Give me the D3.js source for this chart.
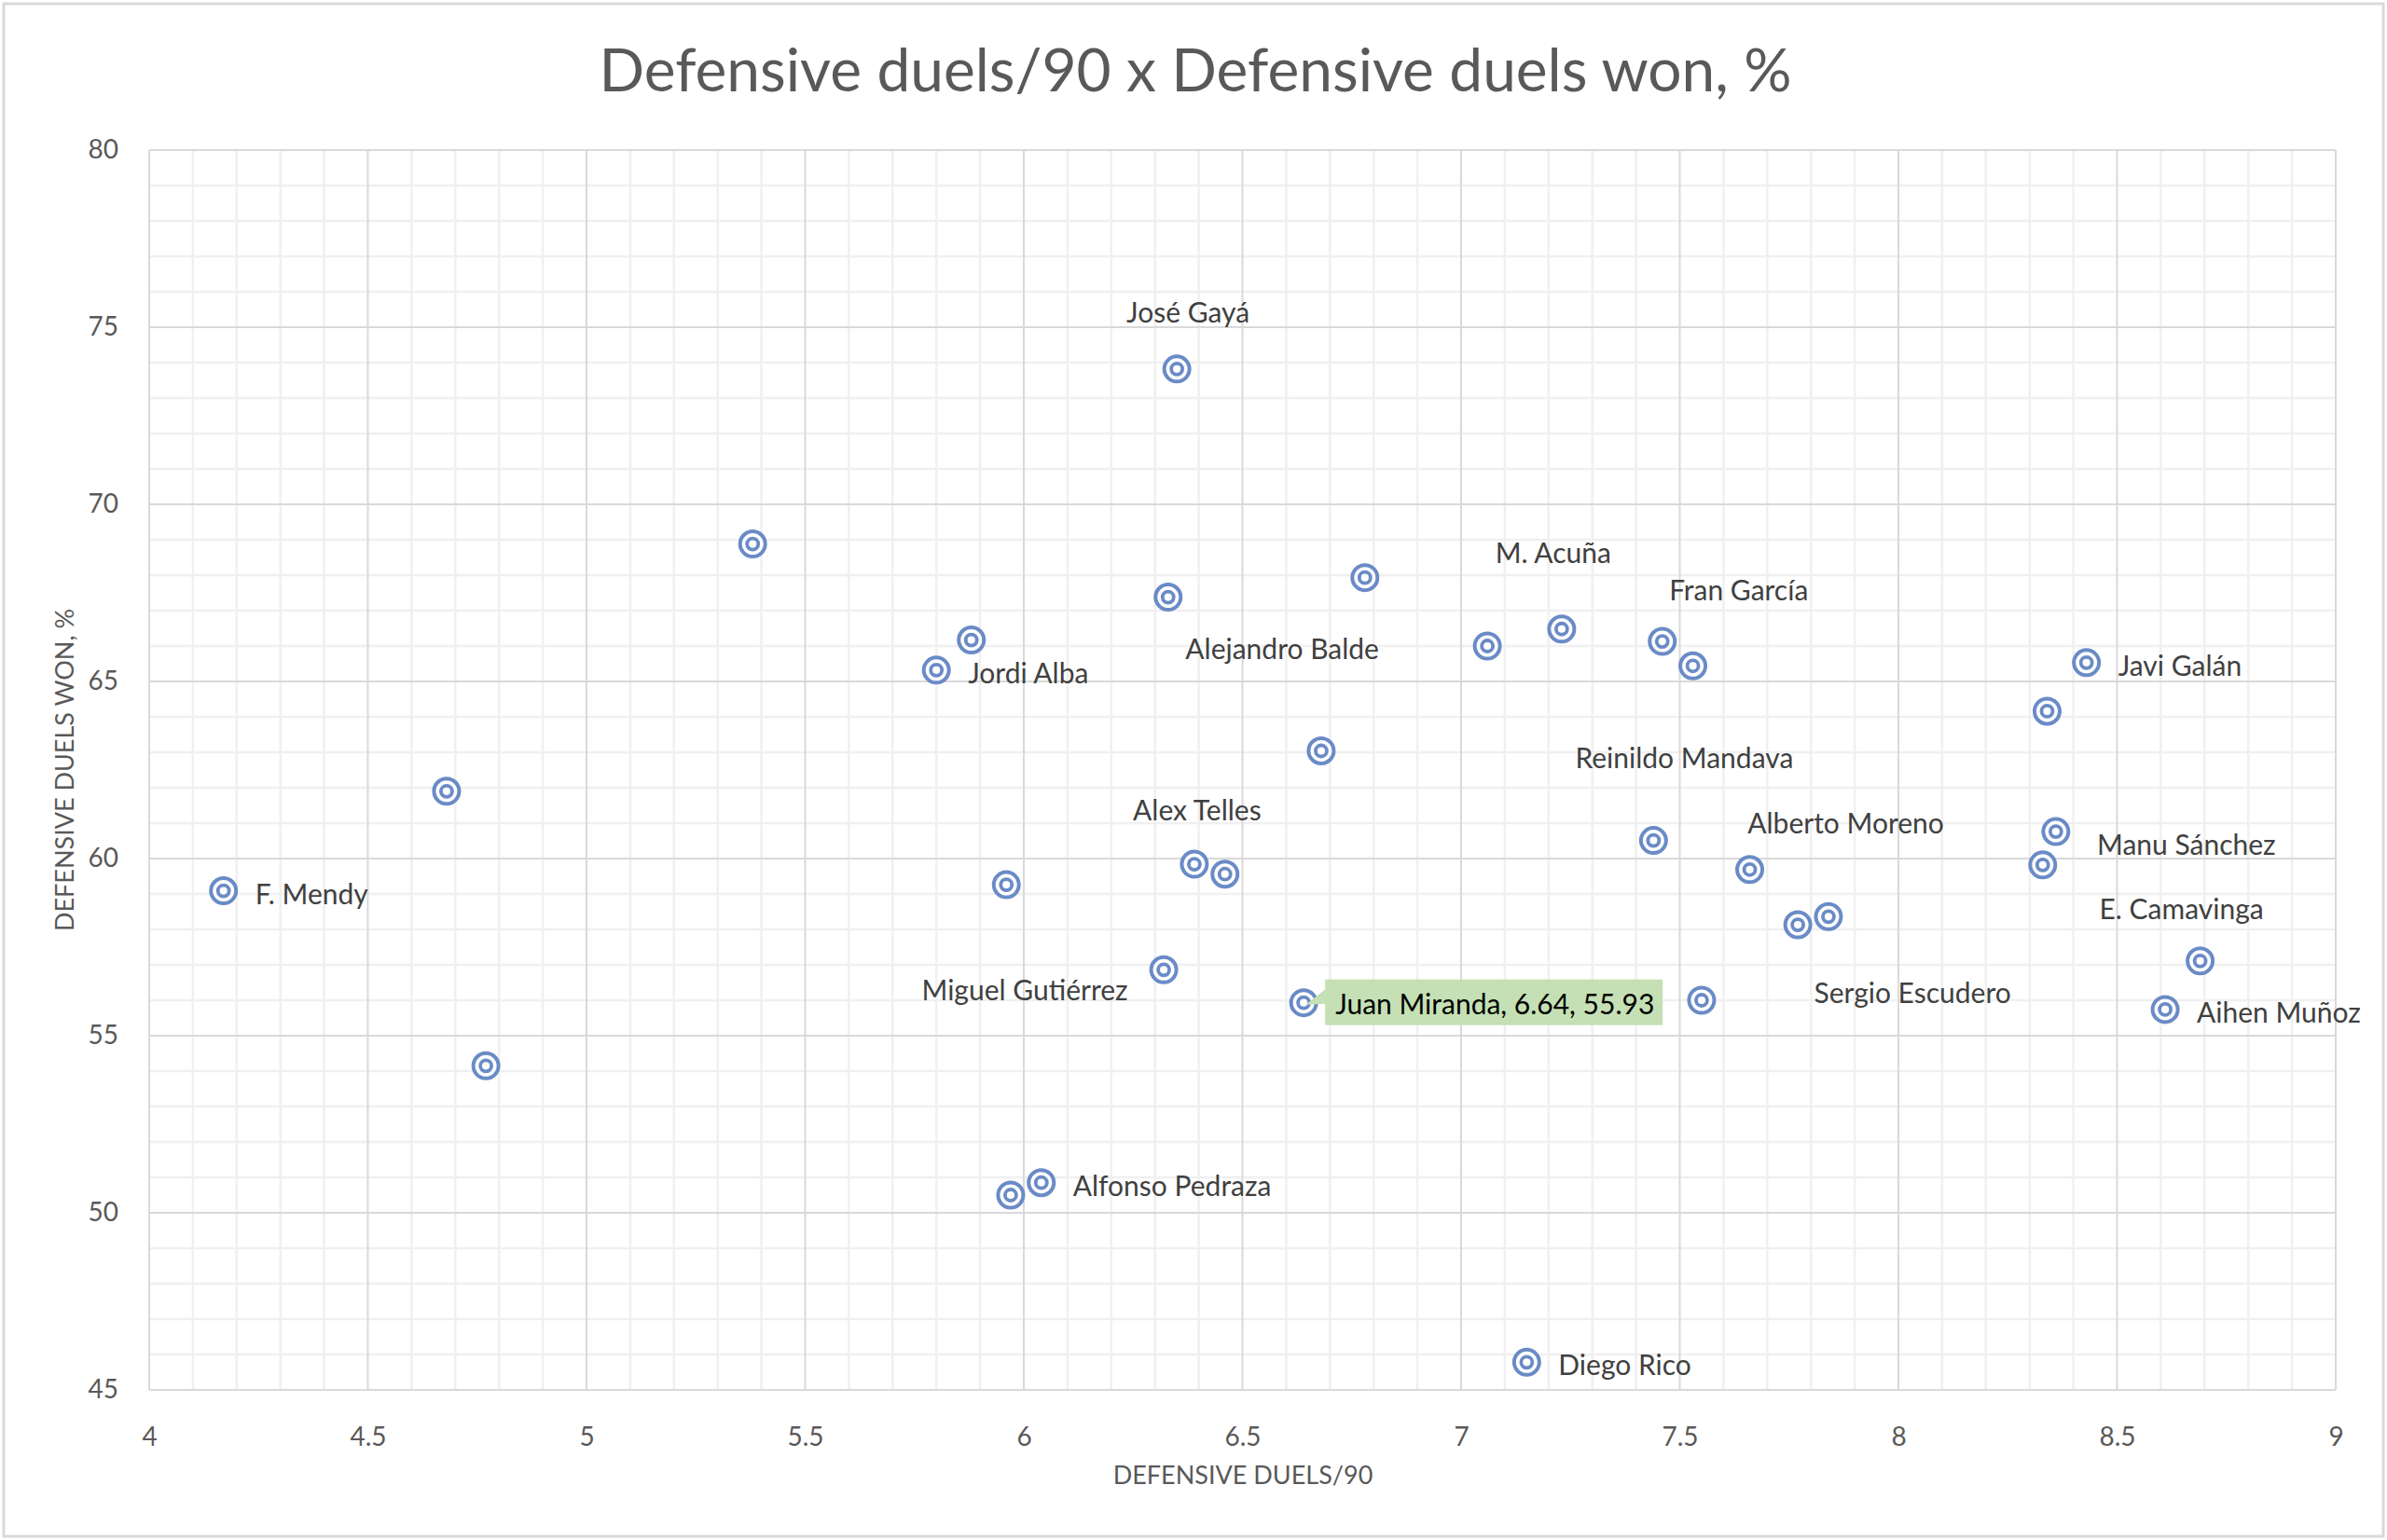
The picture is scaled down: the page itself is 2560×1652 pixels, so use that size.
<!DOCTYPE html>
<html>
<head>
<meta charset="utf-8">
<script src="https://cdn.jsdelivr.net/npm/d3@7"></script>
<style>
  html, body { margin: 0; padding: 0; background: #ffffff; }
  svg { display: block; }
  text { font-family: Lato, "Open Sans", sans-serif; }
</style>
</head>
<body>
<svg id="chart" width="2560" height="1652"></svg>
<script>
// ---------------- DATA ----------------
const chartTitle = "Defensive duels/90 x Defensive duels won, %";
const xAxisTitle = "DEFENSIVE DUELS/90";
const yAxisTitle = "DEFENSIVE DUELS WON, %";

const playerNames = [
  "F. Mendy", "", "", "", "Jordi Alba", "", "", "", "Alfonso Pedraza",
  "Miguel Gutiérrez", "", "José Gayá", "Alex Telles", "", "Juan Miranda",
  "", "", "Alejandro Balde", "M. Acuña", "Diego Rico", "Reinildo Mandava",
  "Fran García", "", "", "Alberto Moreno", "Sergio Escudero", "", "",
  "", "Manu Sánchez", "Javi Galán", "Aihen Muñoz", "E. Camavinga"
];
const duelsPer90 = [
  4.17, 4.68, 4.77, 5.38, 5.80, 5.88, 5.96, 5.97, 6.04,
  6.32, 6.33, 6.35, 6.39, 6.46, 6.64,
  6.68, 6.78, 7.06, 7.23, 7.15, 7.44,
  7.46, 7.53, 7.55, 7.66, 7.77, 7.84, 8.33,
  8.34, 8.36, 8.43, 8.61, 8.69
];
const duelsWonPct = [
  59.09, 61.90, 54.15, 68.88, 65.32, 66.17, 59.26, 50.50, 50.85,
  56.86, 67.38, 73.82, 59.84, 59.56, 55.93,
  63.04, 67.93, 66.00, 66.48, 45.78, 60.51,
  66.13, 65.44, 56.00, 59.69, 58.13, 58.36, 59.82,
  64.16, 60.76, 65.53, 55.74, 57.11
];
const xTicks = [4, 4.5, 5, 5.5, 6, 6.5, 7, 7.5, 8, 8.5, 9];
const yTicks = [45, 50, 55, 60, 65, 70, 75, 80];
const highlightName = "Juan Miranda";

// ---------------- LAYOUT ----------------
const W = 2560, H = 1652;
const plot = { left: 160, right: 2505, top: 161, bottom: 1491 };
const markerColor = "#6a8bc6";

// label placement (pixel offsets relative to the point); "r" = default right-side label
const labelPlacement = {
  "F. Mendy": "r", "Jordi Alba": "r", "Alfonso Pedraza": "r", "Diego Rico": "r",
  "Javi Galán": "r", "Aihen Muñoz": "r",
  "José Gayá": [12, -62], "M. Acuña": [-9, -83], "Fran García": [82, -56],
  "Alejandro Balde": [-220, 2], "Reinildo Mandava": [33, -90],
  "Alex Telles": [3, -59], "Alberto Moreno": [103, -51],
  "Manu Sánchez": [140, 13], "E. Camavinga": [-20, -57],
  "Sergio Escudero": [123, 72], "Miguel Gutiérrez": [-149, 21]
};

const svg = d3.select("#chart");

// background + outer border
svg.append("rect").attr("x", 0).attr("y", 0).attr("width", W).attr("height", H).attr("fill", "#fff");
svg.append("rect").attr("x", 4).attr("y", 4).attr("width", W - 8).attr("height", H - 8)
  .attr("fill", "none").attr("stroke", "#d9d9d9").attr("stroke-width", 3);

const x = d3.scaleLinear().domain([4, 9]).range([plot.left, plot.right]);
const y = d3.scaleLinear().domain([45, 80]).range([plot.bottom, plot.top]);

// minor gridlines
const xMinor = d3.range(40, 91).map(v => v / 10).filter(v => Math.abs(v * 2 - Math.round(v * 2)) > 1e-6);
const yMinor = d3.range(45, 81).filter(v => v % 5 !== 0);
const grid = svg.append("g");
grid.selectAll("line.xmin").data(xMinor).join("line")
  .attr("x1", d => x(d)).attr("x2", d => x(d)).attr("y1", plot.top).attr("y2", plot.bottom)
  .attr("stroke", "#f0f0f0").attr("stroke-width", 2.5);
grid.selectAll("line.ymin").data(yMinor).join("line")
  .attr("x1", plot.left).attr("x2", plot.right).attr("y1", d => y(d)).attr("y2", d => y(d))
  .attr("stroke", "#f0f0f0").attr("stroke-width", 2.5);
// major gridlines
grid.selectAll("line.xmaj").data(xTicks).join("line")
  .attr("x1", d => x(d)).attr("x2", d => x(d)).attr("y1", plot.top).attr("y2", plot.bottom)
  .attr("stroke", "#d9d9d9").attr("stroke-width", 2);
grid.selectAll("line.ymaj").data(yTicks).join("line")
  .attr("x1", plot.left).attr("x2", plot.right).attr("y1", d => y(d)).attr("y2", d => y(d))
  .attr("stroke", "#d9d9d9").attr("stroke-width", 2);

// axes (labels only)
const xAxis = d3.axisBottom(x).tickValues(xTicks).tickSize(0).tickPadding(40).tickFormat(d3.format("~g"));
const yAxis = d3.axisLeft(y).tickValues(yTicks).tickSize(0).tickPadding(33).tickFormat(d3.format("~g"));
const gx = svg.append("g").attr("transform", `translate(0,${plot.bottom})`).call(xAxis);
const gy = svg.append("g").attr("transform", `translate(${plot.left},0)`).call(yAxis);
[gx, gy].forEach(g => {
  g.select(".domain").remove();
  g.selectAll("text").attr("fill", "#595959").style("font-size", "28px").style("font-family", "Lato, sans-serif");
});

// title and axis titles
svg.append("text").attr("x", 1282).attr("y", 98).attr("text-anchor", "middle")
  .attr("fill", "#595959").style("font-size", "64px").style("font-weight", 400).text(chartTitle);
svg.append("text").attr("x", 1333).attr("y", 1592).attr("text-anchor", "middle")
  .attr("fill", "#595959").style("font-size", "27px").text(xAxisTitle);
svg.append("text").attr("transform", `translate(79,${(plot.top + plot.bottom) / 2}) rotate(-90)`)
  .attr("text-anchor", "middle").attr("fill", "#595959").style("font-size", "27px").text(yAxisTitle);

// points
const pts = duelsPer90.map((v, i) => ({ x: v, y: duelsWonPct[i], name: playerNames[i] }));
const gp = svg.append("g");
const mk = gp.selectAll("g.pt").data(pts).join("g")
  .attr("transform", d => `translate(${x(d.x)},${y(d.y)})`);
mk.append("circle").attr("r", 13.5).attr("fill", "#fff").attr("stroke", markerColor).attr("stroke-width", 4);
mk.append("circle").attr("r", 6).attr("fill", "none").attr("stroke", markerColor).attr("stroke-width", 3.8);

// labels
const gl = svg.append("g");
pts.filter(d => d.name && d.name !== highlightName).forEach(d => {
  const p = labelPlacement[d.name];
  const px = x(d.x), py = y(d.y);
  const t = gl.append("text").attr("fill", "#404040").style("font-size", "30px")
    .attr("dominant-baseline", "central").text(d.name);
  if (p === "r") {
    t.attr("x", px + 34).attr("y", py + 2).attr("text-anchor", "start");
  } else {
    t.attr("x", px + p[0]).attr("y", py + p[1]).attr("text-anchor", "middle");
  }
});

// highlighted callout
pts.filter(d => d.name === highlightName).forEach(d => {
  const px = x(d.x), py = y(d.y);
  const bx = px + 23, by = py - 25, bw = 362, bh = 49;
  const g = svg.append("g");
  g.append("path")
    .attr("d", `M${px + 2},${py + 2} L${bx + 1},${by + 10} L${bx + 1},${by + 26} Z`)
    .attr("fill", "#c5e0b4");
  g.append("rect").attr("x", bx).attr("y", by).attr("width", bw).attr("height", bh).attr("fill", "#c5e0b4");
  g.append("text").attr("x", bx + 11).attr("y", py).attr("dominant-baseline", "central")
    .attr("fill", "#000").style("font-size", "30px")
    .text(`${d.name}, ${d3.format(".2f")(d.x)}, ${d3.format(".2f")(d.y)}`);
});
</script>
</body>
</html>
